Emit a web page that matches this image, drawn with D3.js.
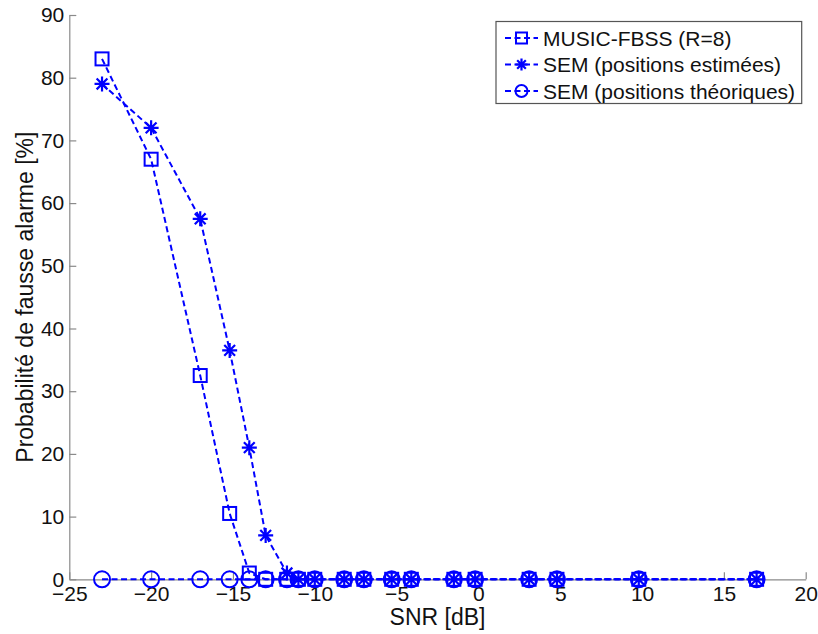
<!DOCTYPE html>
<html>
<head>
<meta charset="utf-8">
<script src="https://cdn.jsdelivr.net/npm/d3@7"></script>
<style>
  body { margin: 0; background: #fff; }
  text { font-family: "Liberation Sans", Arial, sans-serif; fill: #111; }
</style>
</head>
<body>
<script>
/** Data */
const snr = [-23, -20, -17, -15.2, -14, -13, -11.7, -11, -10, -8.2, -7, -5.3, -4.1, -1.5, -0.2, 3.1, 4.8, 9.8, 17];
const musicFbss = [83, 67, 32.5, 10.5, 1, 0, 0, 0, 0, 0, 0, 0, 0, 0, 0, 0, 0, 0, 0];
const semEstimees = [79, 72, 57.5, 36.5, 21, 7, 1, 0, 0, 0, 0, 0, 0, 0, 0, 0, 0, 0, 0];
const semTheoriques = [0, 0, 0, 0, 0, 0, 0, 0, 0, 0, 0, 0, 0, 0, 0, 0, 0, 0, 0];
const seriesNames = ["MUSIC-FBSS (R=8)", "SEM (positions estimées)", "SEM (positions théoriques)"];
const xTicks = [-25, -20, -15, -10, -5, 0, 5, 10, 15, 20];
const yTicks = [0, 10, 20, 30, 40, 50, 60, 70, 80, 90];

/** Layout */
const width = 818, height = 634;
const plotLeft = 69.3, plotRight = 805.7, plotTop = 15, plotBottom = 579.3;
const blue = "#0000ff";
const axisColor = "#8a8a8a";

const svg = d3.select("body").append("svg")
  .attr("width", width)
  .attr("height", height);

const x = d3.scaleLinear().domain([-25, 20]).range([plotLeft, plotRight]);
const y = d3.scaleLinear().domain([0, 90]).range([plotBottom, plotTop]);

// axes (ticks drawn inward, MATLAB style, box off)
const xAxis = svg.append("g")
  .attr("transform", "translate(0," + plotBottom + ")")
  .call(d3.axisBottom(x).tickValues(xTicks).tickSizeInner(-7).tickSizeOuter(0).tickPadding(7));
const yAxis = svg.append("g")
  .attr("transform", "translate(" + plotLeft + ",0)")
  .call(d3.axisLeft(y).tickValues(yTicks).tickSizeInner(-7).tickSizeOuter(0).tickPadding(5));

[xAxis, yAxis].forEach(g => {
  g.select(".domain").attr("stroke", axisColor).attr("stroke-width", 1.2);
  g.selectAll(".tick line").attr("stroke", axisColor).attr("stroke-width", 1.2);
  g.selectAll(".tick text")
    .attr("fill", "#111")
    .attr("font-size", "21px")
    .attr("font-family", "Liberation Sans, Arial, sans-serif");
});

// axis labels
svg.append("text")
  .attr("x", (plotLeft + plotRight) / 2)
  .attr("y", 625)
  .attr("text-anchor", "middle")
  .attr("font-size", "23px")
  .text("SNR [dB]");

svg.append("text")
  .attr("transform", "translate(33," + ((plotTop + plotBottom) / 2) + ") rotate(-90)")
  .attr("text-anchor", "middle")
  .attr("font-size", "23px")
  .text("Probabilité de fausse alarme [%]");

/** marker shapes */
function drawMarker(g, kind, cx, cy, s) {
  if (kind === "square") {
    g.append("rect")
      .attr("x", cx - s / 2).attr("y", cy - s / 2)
      .attr("width", s).attr("height", s)
      .attr("fill", "none").attr("stroke", blue).attr("stroke-width", 2);
  } else if (kind === "circle") {
    g.append("circle")
      .attr("cx", cx).attr("cy", cy).attr("r", s / 2)
      .attr("fill", "none").attr("stroke", blue).attr("stroke-width", 2);
  } else {
    const r = s / 2, d = r * 0.72;
    const p = "M" + (cx - r) + "," + cy + "L" + (cx + r) + "," + cy +
      "M" + cx + "," + (cy - r) + "L" + cx + "," + (cy + r) +
      "M" + (cx - d) + "," + (cy - d) + "L" + (cx + d) + "," + (cy + d) +
      "M" + (cx - d) + "," + (cy + d) + "L" + (cx + d) + "," + (cy - d);
    g.append("path").attr("d", p)
      .attr("fill", "none").attr("stroke", blue).attr("stroke-width", 2.2);
  }
}

const series = [
  { name: seriesNames[0], values: musicFbss, marker: "square", size: 13 },
  { name: seriesNames[1], values: semEstimees, marker: "star", size: 15 },
  { name: seriesNames[2], values: semTheoriques, marker: "circle", size: 16 }
];

const line = d3.line()
  .x((d, i) => x(snr[i]))
  .y(d => y(d));

series.forEach(s => {
  const g = svg.append("g");
  g.append("path")
    .datum(s.values)
    .attr("d", line)
    .attr("fill", "none")
    .attr("stroke", blue)
    .attr("stroke-width", 2)
    .attr("stroke-dasharray", "6,3.5");
  s.values.forEach((v, i) => drawMarker(g, s.marker, x(snr[i]), y(v), s.size));
});

// legend
const legend = svg.append("g");
legend.append("rect")
  .attr("x", 496).attr("y", 21.5)
  .attr("width", 305.7).attr("height", 82)
  .attr("fill", "#fff")
  .attr("stroke", "#555")
  .attr("stroke-width", 1.2);

const rowY = [38, 64.5, 91];
series.forEach((s, i) => {
  const yy = rowY[i];
  legend.append("line")
    .attr("x1", 505).attr("x2", 538)
    .attr("y1", yy).attr("y2", yy)
    .attr("stroke", blue).attr("stroke-width", 2)
    .attr("stroke-dasharray", "6,3.5");
  drawMarker(legend, s.marker, 521.5, yy, s.marker === "square" ? 11 : 12);
  legend.append("text")
    .attr("x", 543)
    .attr("y", yy)
    .attr("dy", "0.36em")
    .attr("font-size", "21px")
    .text(s.name);
});
</script>
</body>
</html>
